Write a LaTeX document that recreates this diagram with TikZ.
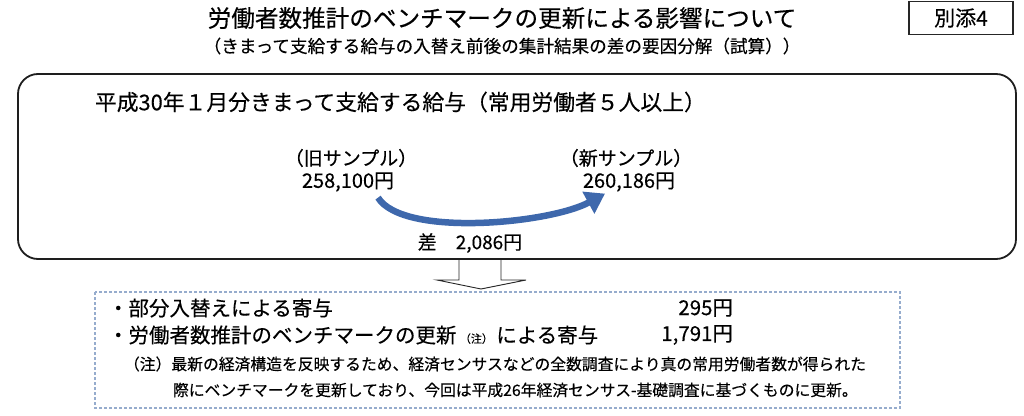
\documentclass[tikz,border=0pt]{standalone}
\usepackage{fontspec}
\setmainfont{Noto Sans CJK JP}[FakeBold=0.3]
\usetikzlibrary{arrows.meta}
\definecolor{arrowblue}{RGB}{62,104,172}
\definecolor{dashblue}{RGB}{150,172,205}
\definecolor{framegray}{RGB}{30,30,30}
\newcommand{\fs}[1]{\fontsize{#1}{#1}\selectfont}
\tikzset{
  txt/.style={inner sep=0pt, outer sep=0pt, text=black},
  mainframe/.style={draw=framegray, line width=1.8pt, rounded corners=20pt},
  dashframe/.style={draw=dashblue, line width=1.1pt, dash pattern=on 3pt off 2pt},
  tagframe/.style={draw=black!85, line width=1.1pt, fill=white},
  hollowarrow/.style={draw=black!85, line width=0.9pt, fill=white},
  curvearrow/.style={draw=arrowblue, line width=6.5pt, -{Triangle[length=19pt,width=24pt]}}
}
\begin{document}
\begin{tikzpicture}[x=1pt,y=-1pt]
\useasboundingbox (0,0) rectangle (1024,415);
% tag
\node[tagframe, minimum width=104pt, minimum height=33pt, inner sep=0pt] (tag) at (961,18) {\fs{21}別添4};
% titles
\node[txt] (title) at (502,18) {\fs{23.6}労働者数推計のベンチマークの更新による影響について};
\node[txt] (subtitle) at (502,46) {\fs{17.6}（きまって支給する給与の入替え前後の集計結果の差の要因分解（試算））};
% main frame
\draw[mainframe] (18,74) rectangle (1016,259);
\node[txt, anchor=west] (heading) at (95,102) {\fs{21.8}平成30年１月分きまって支給する給与（常用労働者５人以上）};
\node[txt] (oldlabel) at (351,158) {\fs{19}（旧サンプル）};
\node[txt] (oldval) at (348,182) {\fs{20}258,100円};
\node[txt] (newlabel) at (626,158) {\fs{19}（新サンプル）};
\node[txt] (newval) at (629,182) {\fs{20}260,186円};
\node[txt] (diff) at (470,243) {\fs{19}差　2,086円};
\draw[curvearrow] ([xshift=30pt,yshift=-6pt]oldval.south) .. controls +(25,40) and +(-55,30) .. ([xshift=-24pt,yshift=-2pt]newval.south);
% hollow arrow
\draw[hollowarrow] (459,260) -- (459,280) -- (437,280) -- (481,289) -- (526,280) -- (501,280) -- (501,260);
% dashed frame
\draw[dashframe] (95,292) rectangle (900,408);
\node[txt, anchor=west] (item1) at (108,308) {\fs{20.5}・部分入替えによる寄与};
\node[txt, anchor=east] (val1) at (733,308) {\fs{20.5}295円};
\node[txt, anchor=west] (item2) at (108,335) {\fs{20.5}・労働者数推計のベンチマークの更新\,{\fs{11}（注）}\,による寄与};
\node[txt, anchor=east] (val2) at (733,335) {\fs{20.5}1,791円};
\node[txt, anchor=west] (note1) at (124,364) {\fs{15.8}（注）最新の経済構造を反映するため、経済センサスなどの全数調査により真の常用労働者数が得られた};
\node[txt, anchor=west] (note2) at (173,390) {\fs{15.8}際にベンチマークを更新しており、今回は平成26年経済センサス-基礎調査に基づくものに更新。};
\end{tikzpicture}
\end{document}
